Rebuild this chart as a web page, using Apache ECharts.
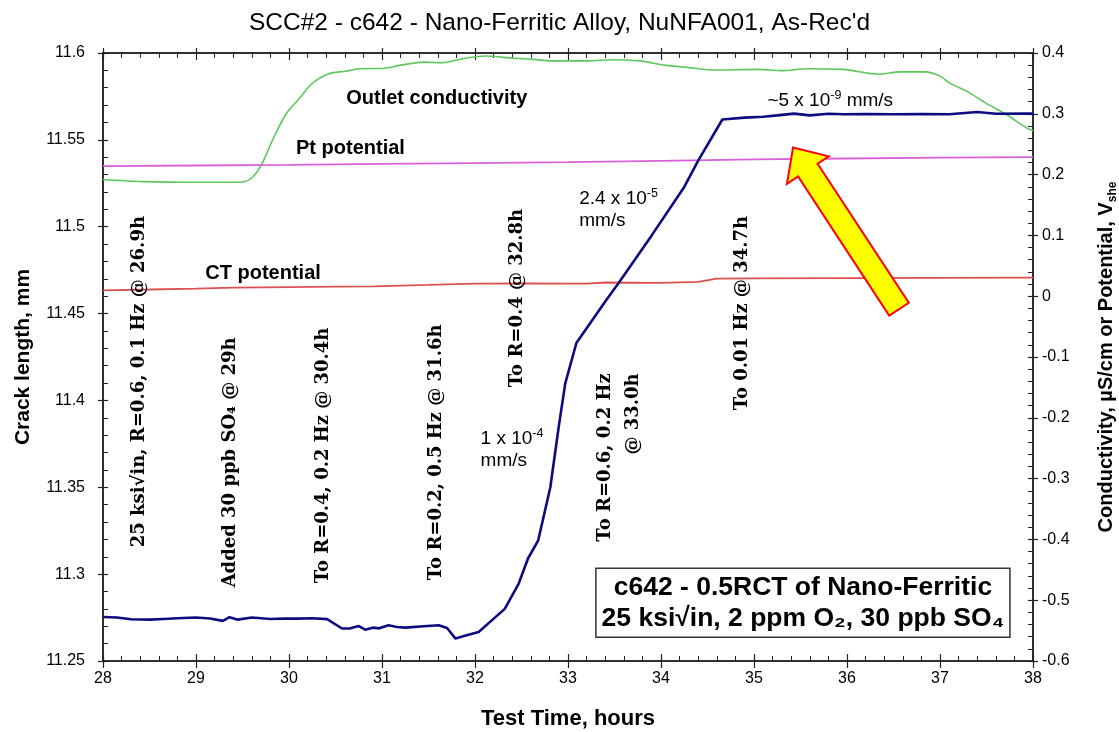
<!DOCTYPE html>
<html><head><meta charset="utf-8">
<script src="https://cdn.jsdelivr.net/npm/echarts@6/dist/echarts.min.js"></script>
<style>html,body{margin:0;padding:0;background:#fff}#c{width:1119px;height:732px}</style>
</head><body><div id="c"></div>
<script>
// ---------------- data ----------------
const chartTitle = "SCC#2 - c642 - Nano-Ferritic Alloy, NuNFA001, As-Rec'd";
const xRange = [28, 38];            // Test Time, hours
const leftRange = [11.25, 11.6];    // Crack length, mm
const rightRange = [-0.6, 0.4];     // Conductivity / Potential

const crackLength = [
 [28.00,11.2753],[28.15,11.2750],[28.30,11.2740],[28.50,11.2738],[28.65,11.2742],[28.80,11.2746],
 [29.00,11.2750],[29.15,11.2745],[29.29,11.2731],[29.36,11.2752],[29.45,11.2738],[29.60,11.2750],
 [29.80,11.2742],[29.95,11.2745],[30.10,11.2744],[30.25,11.2746],[30.41,11.2741],[30.57,11.2687],
 [30.66,11.2688],[30.75,11.2701],[30.82,11.2680],[30.90,11.2692],[30.97,11.2688],[31.07,11.2706],
 [31.16,11.2696],[31.25,11.2692],[31.45,11.2700],[31.61,11.2706],[31.70,11.2690],[31.79,11.2629],
 [31.92,11.2650],[32.04,11.2667],[32.18,11.2734],[32.32,11.2800],[32.47,11.2946],[32.57,11.3090],
 [32.68,11.3195],[32.81,11.3500],[32.90,11.3847],[32.97,11.4097],[33.09,11.4330],[33.41,11.4577],
 [33.55,11.4680],[33.90,11.4950],[34.25,11.5229],[34.40,11.5380],[34.66,11.5617],[34.90,11.5628],
 [35.10,11.5633],[35.25,11.5641],[35.43,11.5651],[35.60,11.5641],[35.80,11.5650],[35.97,11.5647],
 [36.20,11.5649],[36.50,11.5647],[36.80,11.5648],[37.10,11.5647],[37.40,11.5660],[37.60,11.5650],
 [37.93,11.5651],[38.00,11.5651]
];
const outletConductivity = [
 [28.00,0.192],[28.43,0.1885],[28.96,0.1873],[29.50,0.1878],[29.61,0.196],[29.71,0.218],
 [29.82,0.256],[29.97,0.300],[30.11,0.325],[30.25,0.350],[30.43,0.366],[30.61,0.370],
 [30.75,0.374],[31.03,0.375],[31.20,0.380],[31.46,0.385],[31.65,0.384],[31.88,0.391],
 [32.11,0.395],[32.37,0.392],[32.60,0.390],[32.83,0.387],[33.22,0.387],[33.47,0.389],
 [33.77,0.387],[34.04,0.380],[34.30,0.376],[34.58,0.372],[35.04,0.373],[35.30,0.371],
 [35.57,0.374],[35.96,0.373],[36.34,0.365],[36.57,0.369],[36.84,0.369],[37.00,0.362],
 [37.11,0.350],[37.30,0.336],[37.49,0.318],[37.70,0.300],[37.94,0.276],[38.00,0.272]
];
const ptPotential = [
 [28,0.2141],[29,0.2150],[30,0.2160],[31,0.2175],[32,0.2190],[33,0.2205],
 [34,0.2225],[35,0.2250],[36,0.2265],[37,0.2280],[38,0.2289]
];
const ctPotential = [
 [28,0.0097],[28.5,0.0110],[29,0.0125],[29.4,0.0141],[30,0.0150],[30.5,0.0158],[30.92,0.0163],
 [31.5,0.0185],[32,0.0207],[32.5,0.0212],[33.2,0.0207],[33.4,0.0225],[34,0.0220],[34.4,0.0235],
 [34.6,0.0290],[35,0.0292],[36,0.0298],[37,0.0302],[38,0.0306]
];

// annotations, anchored in data coordinates (hours, crack length mm)
const eventNotes = [
 {text:'25 ksi\u221Ain, R=0.6, 0.1 Hz @ 26.9h', at:[28.393,11.3155], align:'left'},
 {text:'Added 30 ppb SO\u2084 @ 29h',            at:[29.369,11.2924], align:'left'},
 {text:'To R=0.4, 0.2 Hz @ 30.4h',              at:[30.366,11.2947], align:'left'},
 {text:'To R=0.2, 0.5 Hz @ 31.6h',              at:[31.588,11.2965], align:'left'},
 {text:'To R=0.4 @ 32.8h',                      at:[32.456,11.4076], align:'left'},
 {text:'To R=0.6, 0.2 Hz\n@ 33.0h',             at:[33.553,11.4156], align:'right'},
 {text:'To 0.01 Hz @ 34.7h',                    at:[34.877,11.3943], align:'left'}
];
const rateNotes = [
 {text:'1 x 10{sup|-4}\nmm/s',      at:[32.06,11.3845]},
 {text:'2.4 x 10{sup|-5}\nmm/s',    at:[33.12,11.5226]},
 {text:'~5 x 10{sup|-9} mm/s',      at:[35.144,11.5790]}
];
const curveNotes = [
 {text:'Outlet conductivity', at:[30.615,11.5738]},
 {text:'Pt potential',        at:[30.075,11.5452]},
 {text:'CT potential',        at:[29.10,11.4732]}
];
const boxLines = ['c642 - 0.5RCT of Nano-Ferritic', '25 ksi\u221Ain, 2 ppm O\u2082, 30 ppb SO\u2084'];
const boxCorners = [[33.30,11.3034],[37.752,11.2636]];
const arrowTip = [35.42,11.5456];
const arrowTail = [36.559,11.4525];

// ---------------- chart ----------------
const SANS = '"Liberation Sans", Arial, sans-serif';
const SERIF = '"DejaVu Serif", serif';
const lineC = '#222';
const axBase = (o) => Object.assign({
  type:'value', splitLine:{show:false},
  axisLine:{show:true, onZero:false, lineStyle:{color:lineC, width:1.5}},
  axisTick:{show:true, inside:true, length:5, lineStyle:{color:lineC, width:1.2}},
  minorTick:{show:false},
  axisLabel:{show:false}
}, o);
const fmtL = v => String(+v.toFixed(2));
const fmtR = v => String(+v.toFixed(1));

const option = {
  animation:false,
  backgroundColor:'#fff',
  title:{text:chartTitle, left:'center', top:6,
    textStyle:{fontSize:24.5, fontWeight:'normal', color:'#000', fontFamily:SANS}},
  grid:{left:103, right:86, top:53, bottom:71, containLabel:false, outerBoundsMode:'none'},
  xAxis:[
    axBase({min:xRange[0], max:xRange[1], interval:1, position:'bottom',
      axisTick:{show:true, inside:false, length:7, lineStyle:{color:lineC, width:1.2}},
      axisLabel:{show:true, margin:10, fontSize:16, color:'#000', fontFamily:SANS},
      name:'Test Time, hours', nameLocation:'middle', nameGap:47,
      nameTextStyle:{fontSize:22, fontWeight:'bold', color:'#000', fontFamily:SANS}}),
    axBase({min:xRange[0], max:xRange[1], interval:1, position:'bottom',
      axisTick:{show:true, inside:true, length:7, lineStyle:{color:lineC, width:1.2}},
      minorTick:{show:true, splitNumber:5, length:5, lineStyle:{color:lineC, width:1}}}),
    axBase({min:xRange[0], max:xRange[1], interval:1, position:'top',
      axisTick:{show:true, inside:true, length:7, lineStyle:{color:lineC, width:1.2}},
      minorTick:{show:true, splitNumber:5, length:5, lineStyle:{color:lineC, width:1}}}),
    axBase({min:xRange[0], max:xRange[1], interval:1, position:'top',
      axisTick:{show:true, inside:false, length:5, lineStyle:{color:lineC, width:1.2}}})
  ],
  yAxis:[
    axBase({min:leftRange[0], max:leftRange[1], interval:0.05, position:'left',
      axisTick:{show:true, inside:false, length:5, lineStyle:{color:lineC, width:1.2}},
      axisLabel:{show:true, margin:18, fontSize:16, color:'#000', fontFamily:SANS, formatter:fmtL},
      name:'Crack length, mm', nameLocation:'middle', nameGap:69,
      nameTextStyle:{fontSize:21, fontWeight:'bold', color:'#000', fontFamily:SANS}}),
    axBase({min:rightRange[0], max:rightRange[1], interval:0.1, position:'right',
      axisTick:{show:true, inside:false, length:5, lineStyle:{color:lineC, width:1.2}},
      axisLabel:{show:true, margin:9, fontSize:16, color:'#000', fontFamily:SANS, formatter:fmtR},
      name:'Conductivity, \u00B5S/cm or Potential, V{sub|she}', nameLocation:'middle', nameGap:60,
      nameTextStyle:{fontSize:20, fontWeight:'bold', color:'#000', fontFamily:SANS, lineHeight:26,
        rich:{sub:{fontSize:12, fontWeight:'bold', color:'#000', fontFamily:SANS, verticalAlign:'bottom'}}}}),
    axBase({min:leftRange[0], max:leftRange[1], interval:0.05, position:'left',
      minorTick:{show:true, splitNumber:5, length:5, lineStyle:{color:lineC, width:1}}}),
    axBase({min:rightRange[0], max:rightRange[1], interval:0.1, position:'right',
      minorTick:{show:true, splitNumber:5, length:5, lineStyle:{color:lineC, width:1}}})
  ],
  series:[
    {name:'Outlet conductivity', type:'line', xAxisIndex:0, yAxisIndex:1, data:outletConductivity,
      showSymbol:false, smooth:0.3, lineStyle:{color:'#5cc85c', width:1.6}, z:2},
    {name:'Pt potential', type:'line', xAxisIndex:0, yAxisIndex:1, data:ptPotential,
      showSymbol:false, lineStyle:{color:'#d860d8', width:1.8}, z:2},
    {name:'CT potential', type:'line', xAxisIndex:0, yAxisIndex:1, data:ctPotential,
      showSymbol:false, lineStyle:{color:'#dc5050', width:1.8}, z:2},
    {name:'Crack length', type:'line', xAxisIndex:0, yAxisIndex:0, data:crackLength,
      showSymbol:false, lineStyle:{color:'#0c0c80', width:2.6}, z:3}
  ]
};

const chart = echarts.init(document.getElementById('c'), null, {renderer:'canvas'});
chart.setOption(option);

const P = (p) => chart.convertToPixel({seriesIndex:3}, p);
const g = [];
eventNotes.forEach(n => {
  const [x, y] = P(n.at);
  g.push({type:'text', x, y, rotation:Math.PI/2, z:50,
    style:{text:n.text, fill:'#000', font:'bold 18px ' + SERIF, align:n.align,
      verticalAlign:'middle', lineHeight:28}});
});
rateNotes.forEach(n => {
  const [x, y] = P(n.at);
  g.push({type:'text', x, y, z:50,
    style:{text:n.text, fill:'#000', fontSize:19, fontFamily:SANS, align:'left', verticalAlign:'top',
      lineHeight:22, rich:{sup:{fontSize:12.5, fontFamily:SANS, fill:'#000', verticalAlign:'top', lineHeight:22}}}});
});
curveNotes.forEach(n => {
  const [x, y] = P(n.at);
  g.push({type:'text', x, y, z:50,
    style:{text:n.text, fill:'#000', font:'bold 20px ' + SANS, align:'left', verticalAlign:'middle'}});
});
// annotation box
{
  const a = P(boxCorners[0]), b = P(boxCorners[1]);
  g.push({type:'rect', z:60, shape:{x:a[0], y:a[1], width:b[0]-a[0], height:b[1]-a[1]},
    style:{fill:'#fff', stroke:'#333', lineWidth:1.5}});
  g.push({type:'text', z:61, x:(a[0]+b[0])/2, y:(a[1]+b[1])/2,
    style:{text:boxLines.join('\n'), fill:'#000', font:'bold 26.5px ' + SANS, align:'center',
      verticalAlign:'middle', lineHeight:31}});
}
// arrow
{
  const T = P(arrowTip), B = P(arrowTail);
  const dx = T[0]-B[0], dy = T[1]-B[1], L = Math.hypot(dx, dy);
  const d = [dx/L, dy/L], n = [-d[1], d[0]];
  const headLen = 27, headHalf = 25, shaftHalf = 11.7;
  const base = [T[0]-d[0]*headLen, T[1]-d[1]*headLen];
  const pt = (o, s) => [o[0]+n[0]*s, o[1]+n[1]*s];
  g.push({type:'polygon', z:70, shape:{points:[T, pt(base, headHalf), pt(base, shaftHalf),
    pt(B, shaftHalf), pt(B, -shaftHalf), pt(base, -shaftHalf), pt(base, -headHalf)]},
    style:{fill:'#ffff00', stroke:'#ff0000', lineWidth:2, lineJoin:'miter'}});
}
chart.setOption({graphic:g});
</script></body></html>
